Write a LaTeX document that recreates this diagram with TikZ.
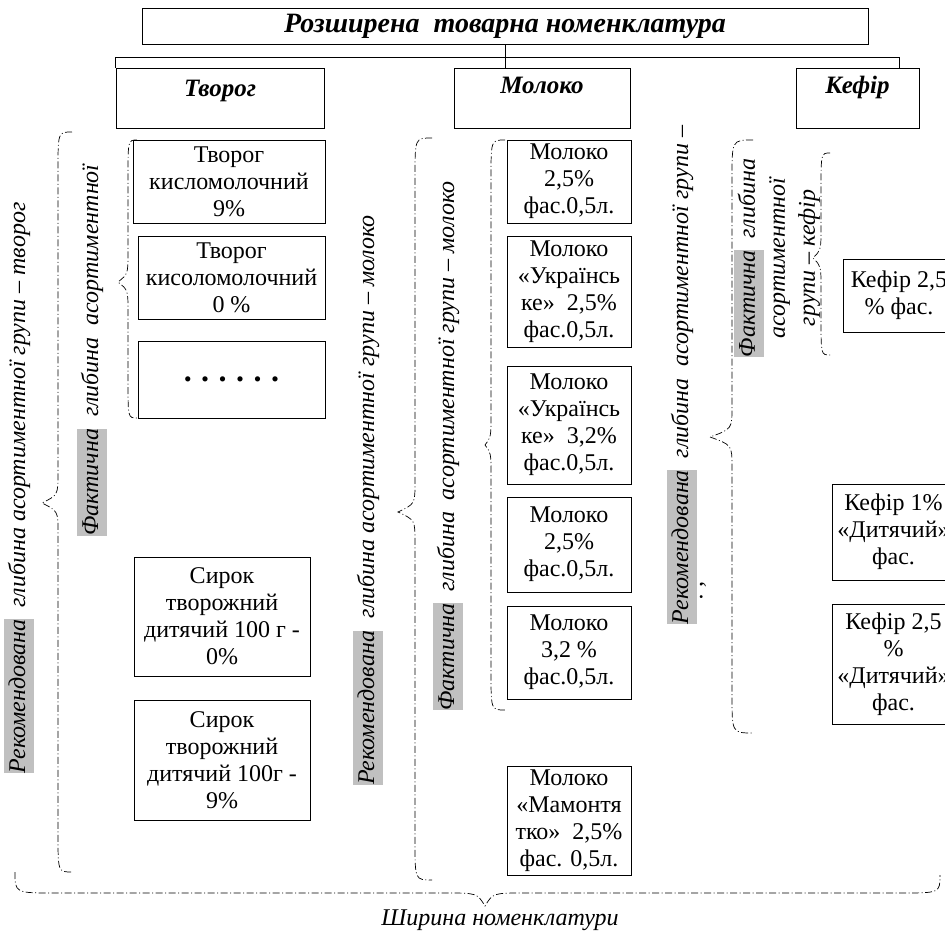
\documentclass[tikz,border=0pt]{standalone}
\usepackage{fontspec}
\setmainfont{Liberation Serif}
\usepackage{tikz}
\usetikzlibrary{positioning}
\definecolor{markgray}{RGB}{192,192,192}
\newcommand{\itemfont}{\fontsize{24}{27}\selectfont}
\newcommand{\labfont}{\fontsize{24}{30}\selectfont\itshape}
\newcommand{\headfont}{\fontsize{25}{27}\selectfont\bfseries\itshape}
\newcommand{\titlefont}{\fontsize{28}{30}\selectfont\bfseries\itshape}
\newcommand{\grayhl}[1]{{\setlength{\fboxsep}{0pt}\colorbox{markgray}{\strut#1}}}
% dash-dot brace: ends x, straight x, tip x, top y, tip y, bottom y
\newcommand{\grpbrace}[6]{%
  \draw[brace] (#1,#4) .. controls (#2,#4) .. (#2,#4+38) -- (#2,#5-30)
    .. controls (#2,#5-8) .. (#3,#5) .. controls (#2,#5+8) .. (#2,#5+30)
    -- (#2,#6-38) .. controls (#2,#6) .. (#1,#6);}
\tikzstyle{head} = [draw, line width=0.9pt, inner sep=0pt]
\tikzstyle{headtxt} = [font=\headfont, inner sep=0pt]
\tikzstyle{item} = [draw, line width=0.9pt, align=center, inner sep=1pt, font=\itemfont]
\tikzstyle{vlabel} = [rotate=90, font=\labfont, align=center, inner sep=0pt]
\tikzstyle{brace} = [line width=0.7pt, dash pattern=on 7pt off 2.5pt on 1pt off 2.5pt]
\tikzstyle{conn} = [draw, line width=0.9pt]

\begin{document}
\begin{tikzpicture}[x=1pt,y=-1pt]
    \useasboundingbox (0,0) rectangle (945,933);
    % top level and groups
    \node [head, minimum width=726, minimum height=36, font=\titlefont] (title) at (505,26) {Розширена\ \ товарна номенклатура};
    \node [head, minimum width=208, minimum height=60, label={[headtxt,yshift=7pt]center:Творог}] (tvHead) at (220,98) {};
    \node [head, minimum width=176, minimum height=60, label={[headtxt,yshift=13pt]center:Молоко}] (mlHead) at (542,98) {};
    \node [head, minimum width=123, minimum height=60, label={[headtxt,yshift=11pt]center:Кефір}] (kfHead) at (857.5,98) {};
    \coordinate (barR) at (899,57);
    \draw [conn] (title.south) -- (title.south |- mlHead.north);
    \draw [conn] (tvHead.north west) |- (barR) -- (barR |- kfHead.north);
    % tvorog
    \node [item, minimum width=192, minimum height=83] (tv1) at (229,181.5) {Творог\\кисломолочний\\9\%};
    \node [item, minimum width=187, minimum height=83] (tv2) at (231.5,277.5) {Творог\\кисоломолочний\\0 \%};
    \node [item, minimum width=187, minimum height=77] (tv3) at (231.5,379.5) {\fontsize{32}{27}\selectfont\bfseries .\hspace{9.5pt}.\hspace{9.5pt}.\hspace{9.5pt}.\hspace{9.5pt}.\hspace{9.5pt}.};
    \node [item, minimum width=176, minimum height=119] (tv4) at (222,616.5) {Сирок\\творожний\\дитячий 100 г -\\0\%};
    \node [item, minimum width=176, minimum height=120] (tv5) at (222,760) {Сирок\\творожний\\дитячий 100г -\\9\%};
    % moloko
    \node [item, minimum width=124, minimum height=83] (ml1) at (569,181.5) {Молоко\\2,5\%\\фас.0,5л.};
    \node [item, minimum width=124, minimum height=111] (ml2) at (569,291.5) {Молоко\\«Українсь\\ке»\ \ 2,5\%\\фас.0,5л.};
    \node [item, minimum width=124, minimum height=118] (ml3) at (569,425) {Молоко\\«Українсь\\ке»\ \ 3,2\%\\фас.0,5л.};
    \node [item, minimum width=124, minimum height=95] (ml4) at (569,544.5) {Молоко\\2,5\%\\фас.0,5л.};
    \node [item, minimum width=124, minimum height=93] (ml5) at (569,652.5) {Молоко\\3,2 \%\\фас.0,5л.};
    \node [item, minimum width=124, minimum height=109] (ml6) at (569,820.5) {Молоко\\«Мамонтя\\тко»\ \ 2,5\%\\фас. 0,5л.};
    % kefir
    \node [item, minimum width=112, minimum height=73] (kf1) at (899,295.5) {Кефір 2,5\\\% фас.};
    \node [item, minimum width=123, minimum height=96] (kf2) at (893.5,532) {Кефір 1\%\\«Дитячий»\\фас.};
    \node [item, minimum width=123, minimum height=120] (kf3) at (893.5,664) {Кефір 2,5\\\%\\«Дитячий»\\фас.};
    % depth labels
    \node [vlabel] (tvRec) at (19,488) {\grayhl{Рекомендована}\ \ глибина асортиментної групи – творог};
    \node [vlabel] (tvFact) at (92,350) {\grayhl{Фактична}\ \ глибина\ \ асортиментної};
    \node [vlabel] (mlRec) at (368,500) {\grayhl{Рекомендована}\ \ глибина асортиментної групи – молоко};
    \node [vlabel] (mlFact) at (448,446) {\grayhl{Фактична}\ \ глибина\ \ асортиментної групи – молоко};
    \node [vlabel] (kfRec) at (682,375) {\grayhl{Рекомендована}\ \ глибина\ \ асортиментної групи –};
    \node [vlabel] (kfRecTail) at (703,590) {.\ ,};
    \node [vlabel] (kfFact) at (777,258) {\grayhl{Фактична}\ \ глибина\\асортиментної\\групи – кефір};
    % braces
    \grpbrace{72}{58}{42}{132}{503}{872}
    \grpbrace{137}{128}{118}{140}{282}{418}
    \grpbrace{432}{415}{398}{138}{512}{880}
    \grpbrace{505}{491}{485}{140}{445}{710}
    \grpbrace{753}{732}{710}{140}{437}{733}
    \grpbrace{830}{821}{813}{153}{258}{355}
    \draw [brace] (15,872) .. controls (15,893) .. (55,893) -- (445,893)
      .. controls (477,893) .. (485,906) .. controls (493,893) .. (525,893)
      -- (900,893) .. controls (940,893) .. (940,875);
    \node [font=\labfont, inner sep=0pt] (width) at (500,920) {Ширина номенклатури};
  \end{tikzpicture}
\end{document}
